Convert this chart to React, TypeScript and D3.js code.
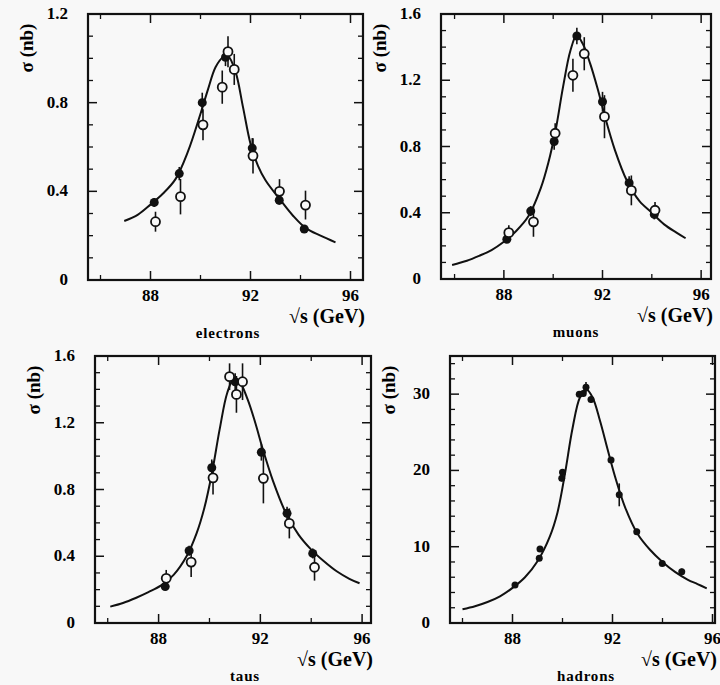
import React from "react";
import * as d3 from "d3";

// ---- data: [sqrt(s) GeV, sigma nb, error] ----
const electronsFilled = [
  [88.15, 0.35, 0.02], [89.15, 0.48, 0.03], [90.07, 0.8, 0.045], [91.0, 1.005, 0.04],
  [92.07, 0.595, 0.045], [93.15, 0.36, 0.02], [94.15, 0.23, 0.015],
];
const electronsOpen = [
  [88.2, 0.263, 0.045], [89.2, 0.376, 0.08], [90.1, 0.7, 0.07], [90.87, 0.87, 0.075],
  [91.1, 1.03, 0.07], [91.35, 0.95, 0.07], [92.1, 0.56, 0.08], [93.16, 0.4, 0.055],
  [94.2, 0.338, 0.065],
];
const electronsFit = [
  [86.95, 0.266], [87.5, 0.295], [88.0, 0.34], [88.5, 0.39], [89.0, 0.455], [89.5, 0.58],
  [90.0, 0.75], [90.3, 0.86], [90.6, 0.96], [90.9, 1.005], [91.1, 1.01], [91.4, 0.94],
  [91.7, 0.78], [92.0, 0.615], [92.3, 0.515], [92.6, 0.45], [93.2, 0.36], [93.7, 0.29],
  [94.2, 0.235], [94.8, 0.2], [95.4, 0.17],
];

const muonsFilled = [
  [88.12, 0.24, 0.02], [89.09, 0.41, 0.03], [90.04, 0.83, 0.05], [90.96, 1.467, 0.05],
  [92.0, 1.07, 0.06], [93.08, 0.58, 0.04], [94.1, 0.39, 0.03],
];
const muonsOpen = [
  [88.2, 0.28, 0.045], [89.2, 0.345, 0.09], [90.08, 0.88, 0.06], [90.8, 1.23, 0.1],
  [91.26, 1.36, 0.1], [92.08, 0.98, 0.13], [93.17, 0.535, 0.09], [94.13, 0.415, 0.05],
];
const muonsFit = [
  [85.9, 0.085], [86.5, 0.11], [87.0, 0.14], [87.5, 0.175], [88.0, 0.225], [88.5, 0.29],
  [89.0, 0.38], [89.5, 0.55], [89.8, 0.7], [90.1, 0.9], [90.4, 1.16], [90.7, 1.38],
  [90.95, 1.47], [91.2, 1.42], [91.5, 1.3], [91.8, 1.15], [92.1, 0.98], [92.5, 0.78],
  [93.0, 0.59], [93.5, 0.47], [94.0, 0.4], [94.5, 0.33], [95.0, 0.28], [95.37, 0.246],
];

const tausFilled = [
  [88.26, 0.218, 0.02], [89.2, 0.433, 0.03], [90.09, 0.93, 0.05], [91.01, 1.446, 0.05],
  [92.04, 1.023, 0.05], [93.05, 0.657, 0.04], [94.06, 0.417, 0.03],
];
const tausOpen = [
  [88.3, 0.268, 0.05], [89.28, 0.365, 0.09], [90.14, 0.87, 0.1], [90.79, 1.476, 0.08],
  [91.06, 1.37, 0.11], [91.3, 1.446, 0.11], [92.12, 0.867, 0.15], [93.14, 0.597, 0.09],
  [94.13, 0.334, 0.08],
];
const tausFit = [
  [86.1, 0.098], [86.6, 0.12], [87.1, 0.15], [87.6, 0.185], [88.1, 0.225], [88.6, 0.29],
  [89.1, 0.4], [89.5, 0.54], [89.8, 0.69], [90.1, 0.9], [90.4, 1.16], [90.7, 1.38],
  [90.95, 1.46], [91.2, 1.44], [91.5, 1.34], [91.8, 1.2], [92.1, 1.04], [92.5, 0.85],
  [93.0, 0.66], [93.5, 0.53], [94.0, 0.44], [94.5, 0.37], [95.0, 0.31], [95.5, 0.265],
  [95.9, 0.238],
];

const hadronsFilled = [
  [88.1, 4.98, 0.3], [89.07, 8.5, 0.3], [89.1, 9.7, 0.3], [89.97, 18.96, 0.4],
  [90.0, 19.75, 0.4], [90.67, 30.0, 0.4], [90.83, 30.1, 0.4], [90.94, 30.9, 0.7],
  [91.14, 29.3, 0.4], [91.94, 21.36, 0.4], [92.27, 16.8, 1.5], [92.97, 11.97, 0.4],
  [93.99, 7.8, 0.3], [94.77, 6.73, 0.4],
];
const hadronsOpen: number[][] = [];
const hadronsFit = [
  [86.0, 1.8], [86.5, 2.2], [87.0, 2.75], [87.5, 3.5], [88.0, 4.6], [88.5, 6.0], [89.0, 8.1],
  [89.5, 11.4], [89.8, 14.5], [90.1, 19.6], [90.4, 25.5], [90.7, 29.6], [90.95, 30.6],
  [91.2, 29.6], [91.5, 26.5], [91.8, 22.8], [92.1, 19.2], [92.5, 15.2], [93.0, 11.7],
  [93.5, 9.6], [94.0, 8.0], [94.5, 6.7], [95.0, 5.7], [95.4, 5.1], [95.77, 4.55],
];

const xMajorTicks = [88, 92, 96];
const xMinorTicks = [86, 90, 94];
const electronsYLabels = [0, 0.4, 0.8, 1.2];
const leptonYLabels = [0, 0.4, 0.8, 1.2, 1.6];
const hadronsYLabels = [0, 10, 20, 30];
const panelNames = ["electrons", "muons", "taus", "hadrons"];

const FONT = "'Liberation Serif', 'DejaVu Serif', serif";

type Panel = {
  name: string; left: number; right: number; top: number; bottom: number;
  xDomain: [number, number]; yMax: number; yLabels: number[]; yMinorStep: number;
  yFmt: (v: number) => string; filled: number[][]; open: number[][]; fit: number[][];
  nameX: number; r: number;
};

const lepFmt = (v: number) => (v === 0 ? "0" : v.toFixed(1));

const panels: Panel[] = [
  { name: panelNames[0], left: 88, right: 363, top: 14, bottom: 280, xDomain: [85.5, 96.5],
    yMax: 1.2, yLabels: electronsYLabels, yMinorStep: 0.1, yFmt: lepFmt,
    filled: electronsFilled, open: electronsOpen, fit: electronsFit, nameX: 228, r: 4.5 },
  { name: panelNames[1], left: 441, right: 711, top: 14, bottom: 279, xDomain: [85.45, 96.4],
    yMax: 1.6, yLabels: leptonYLabels, yMinorStep: 0.1, yFmt: lepFmt,
    filled: muonsFilled, open: muonsOpen, fit: muonsFit, nameX: 576, r: 4.5 },
  { name: panelNames[2], left: 95, right: 371, top: 356, bottom: 623, xDomain: [85.5, 96.35],
    yMax: 1.6, yLabels: leptonYLabels, yMinorStep: 0.1, yFmt: lepFmt,
    filled: tausFilled, open: tausOpen, fit: tausFit, nameX: 245, r: 4.5 },
  { name: panelNames[3], left: 450, right: 715, top: 356, bottom: 623, xDomain: [85.5, 96.1],
    yMax: 35, yLabels: hadronsYLabels, yMinorStep: 2, yFmt: (v) => String(v),
    filled: hadronsFilled, open: hadronsOpen, fit: hadronsFit, nameX: 586, r: 3.5 },
];

function PanelView({ p }: { p: Panel }) {
  const x = d3.scaleLinear().domain(p.xDomain).range([p.left, p.right]);
  const y = d3.scaleLinear().domain([0, p.yMax]).range([p.bottom, p.top]);
  const line = d3.line<number[]>().x((d) => x(d[0])).y((d) => y(d[1])).curve(d3.curveCatmullRom.alpha(0.5));
  const minorY = d3.range(p.yMinorStep, p.yMax - 1e-9, p.yMinorStep).filter(
    (v) => !p.yLabels.some((l) => Math.abs(l - v) < 1e-6)
  );
  const bg = "#f8f8f8";
  return (
    <g>
      <rect x={p.left} y={p.top} width={p.right - p.left} height={p.bottom - p.top}
        fill="none" stroke="#111" strokeWidth={2.2} />
      {/* x ticks */}
      {xMajorTicks.filter((t) => t <= p.xDomain[1]).map((t) => (
        <g key={"xM" + t}>
          <line x1={x(t)} x2={x(t)} y1={p.bottom} y2={p.bottom - 9} stroke="#111" strokeWidth={1.5} />
          <line x1={x(t)} x2={x(t)} y1={p.top} y2={p.top + 9} stroke="#111" strokeWidth={1.5} />
          <text x={x(t)} y={p.bottom + 21} textAnchor="middle" fontFamily={FONT} fontWeight="bold" fontSize={17}>{t}</text>
        </g>
      ))}
      {xMinorTicks.map((t) => (
        <g key={"xm" + t}>
          <line x1={x(t)} x2={x(t)} y1={p.bottom} y2={p.bottom - 5} stroke="#111" strokeWidth={1.3} />
          <line x1={x(t)} x2={x(t)} y1={p.top} y2={p.top + 5} stroke="#111" strokeWidth={1.3} />
        </g>
      ))}
      {/* y ticks */}
      {p.yLabels.map((t) => (
        <g key={"yM" + t}>
          {t > 0 && t < p.yMax && (
            <>
              <line x1={p.left} x2={p.left + 9} y1={y(t)} y2={y(t)} stroke="#111" strokeWidth={1.5} />
              <line x1={p.right} x2={p.right - 9} y1={y(t)} y2={y(t)} stroke="#111" strokeWidth={1.5} />
            </>
          )}
          <text x={p.left - 20} y={y(t) + 5} textAnchor="end" fontFamily={FONT} fontWeight="bold" fontSize={17}>{p.yFmt(t)}</text>
        </g>
      ))}
      {minorY.map((t) => (
        <g key={"ym" + t}>
          <line x1={p.left} x2={p.left + 5} y1={y(t)} y2={y(t)} stroke="#111" strokeWidth={1.3} />
          <line x1={p.right} x2={p.right - 5} y1={y(t)} y2={y(t)} stroke="#111" strokeWidth={1.3} />
        </g>
      ))}
      {/* fit curve */}
      <path d={line(p.fit) || ""} fill="none" stroke="#111" strokeWidth={2} />
      {/* filled points */}
      {p.filled.map((d, i) => (
        <g key={"f" + i}>
          <line x1={x(d[0])} x2={x(d[0])} y1={y(d[1] - d[2])} y2={y(d[1] + d[2])} stroke="#111" strokeWidth={1.6} />
          <circle cx={x(d[0])} cy={y(d[1])} r={p.r} fill="#111" />
        </g>
      ))}
      {/* open points */}
      {p.open.map((d, i) => (
        <g key={"o" + i}>
          <line x1={x(d[0])} x2={x(d[0])} y1={y(d[1] - d[2])} y2={y(d[1] + d[2])} stroke="#111" strokeWidth={1.6} />
          <circle cx={x(d[0])} cy={y(d[1])} r={p.r} fill={bg} stroke="#111" strokeWidth={1.8} />
        </g>
      ))}
      {/* axis titles */}
      <text transform={`translate(${p.left - 55},${p.top + 34}) rotate(-90)`} textAnchor="middle"
        fontFamily={FONT} fontWeight="bold" fontSize={19}>σ (nb)</text>
      <text x={p.right + 2} y={p.bottom + 43} textAnchor="end" fontFamily={FONT} fontWeight="bold" fontSize={20}>√s (GeV)</text>
      <text x={p.nameX} y={p.bottom + 58} textAnchor="middle" fontFamily={FONT} fontWeight="bold" fontSize={15} letterSpacing={0.8}>{p.name}</text>
    </g>
  );
}

export default function App() {
  return (
    <svg width={720} height={685} style={{ position: "absolute", left: 0, top: 0, background: "#f8f8f8" }}>
      <rect x={0} y={0} width={720} height={685} fill="#f8f8f8" />
      {panels.map((p) => (
        <PanelView key={p.name} p={p} />
      ))}
    </svg>
  );
}
